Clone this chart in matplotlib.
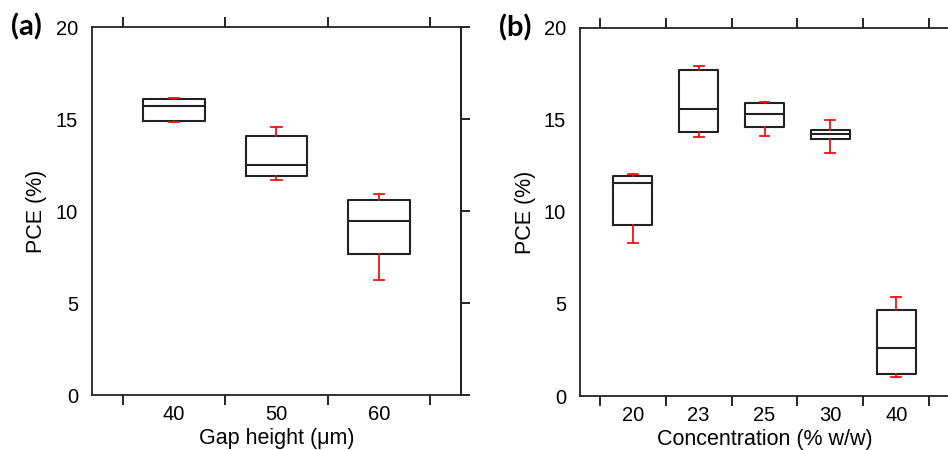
# PCE box plots: gap height (a) and concentration (b)
import matplotlib
matplotlib.use('Agg')
import matplotlib.pyplot as plt
from matplotlib.ticker import FixedLocator, NullFormatter, FixedFormatter

plt.rcParams['font.family'] = ['Liberation Sans', 'DejaVu Sans']

# panel (a) - gap height
gap_labels = ['40', '50', '60']
gap_q1 = [14.89, 11.93, 7.65]
gap_med = [15.72, 12.49, 9.45]
gap_q3 = [16.10, 14.07, 10.61]
gap_lo = [14.85, 11.68, 6.24]
gap_hi = [16.17, 14.56, 10.93]

# panel (b) - concentration
conc_labels = ['20', '23', '25', '30', '40']
conc_q1 = [9.29, 14.35, 14.60, 13.97, 1.21]
conc_med = [11.58, 15.58, 15.34, 14.22, 2.63]
conc_q3 = [11.97, 17.70, 15.91, 14.47, 4.67]
conc_lo = [8.32, 14.09, 14.13, 13.21, 1.05]
conc_hi = [12.05, 17.93, 15.98, 15.02, 5.40]

yticks = [0, 5, 10, 15, 20]


def draw_panel(ax, labels, q1, med, q3, lo, hi, xlabel, tag, capw):
    n = len(labels)
    pos = list(range(1, n + 1))
    stats = []
    for i in range(n):
        stats.append({'med': med[i], 'q1': q1[i], 'q3': q3[i],
                      'whislo': lo[i], 'whishi': hi[i], 'fliers': []})
    ax.bxp(stats, positions=pos, widths=0.6, capwidths=capw,
           boxprops=dict(color='#222222', linewidth=1.5),
           medianprops=dict(color='#222222', linewidth=1.5),
           whiskerprops=dict(color='#ee1111', linewidth=1.3),
           capprops=dict(color='#ee1111', linewidth=1.3),
           manage_ticks=False)

    ax.set_xlim(0.2, n + 0.8)
    ax.set_ylim(0, 20)

    # x: ticks between categories, labels at categories
    ax.xaxis.set_major_locator(FixedLocator([p + 0.5 for p in range(n + 1)]))
    ax.xaxis.set_major_formatter(NullFormatter())
    ax.xaxis.set_minor_locator(FixedLocator(pos))
    ax.xaxis.set_minor_formatter(FixedFormatter(labels))
    ax.tick_params(axis='x', which='major', direction='out', length=7,
                   width=1.2, top=True, bottom=True)
    ax.tick_params(axis='x', which='minor', length=0, pad=7, labelsize=14.5)

    # y: labels on left, ticks outward only on right (plus spine extension)
    ax.yaxis.set_major_locator(FixedLocator(yticks))
    ax.yaxis.set_minor_locator(FixedLocator([0, 20]))
    ax.tick_params(axis='y', which='major', length=0, pad=10, labelsize=14.5)
    ax.tick_params(axis='y', which='minor', direction='out', length=6.5,
                   width=1.2)

    sec = ax.secondary_yaxis('right')
    sec.set_yticks(yticks)
    sec.set_yticklabels([])
    sec.tick_params(direction='out', length=6.5, width=1.2)
    sec.spines['right'].set_linewidth(1.3)
    sec.spines['right'].set_color('#222222')

    for s in ax.spines.values():
        s.set_linewidth(1.3)
        s.set_color('#222222')

    ax.set_xlabel(xlabel, fontsize=15.5, labelpad=3)
    ax.set_ylabel('PCE (%)', fontsize=15.5, labelpad=6)
    ax.text(-0.22, 1.0, tag, transform=ax.transAxes, fontsize=21,
            fontweight='bold', family=['Lato', 'DejaVu Sans'],
            ha='left', va='center')


fig = plt.figure(figsize=(9.48, 4.5), dpi=100)
axa = fig.add_axes([0.0970, 0.1222, 0.3893, 0.8171])
axb = fig.add_axes([0.6118, 0.1200, 0.3893, 0.8178])

draw_panel(axa, gap_labels, gap_q1, gap_med, gap_q3, gap_lo, gap_hi,
           'Gap height (\u03bcm)', '(a)', 0.1)
draw_panel(axb, conc_labels, conc_q1, conc_med, conc_q3, conc_lo, conc_hi,
           'Concentration (% w/w)', '(b)', 0.15)

fig.savefig('out.png', dpi=100)
